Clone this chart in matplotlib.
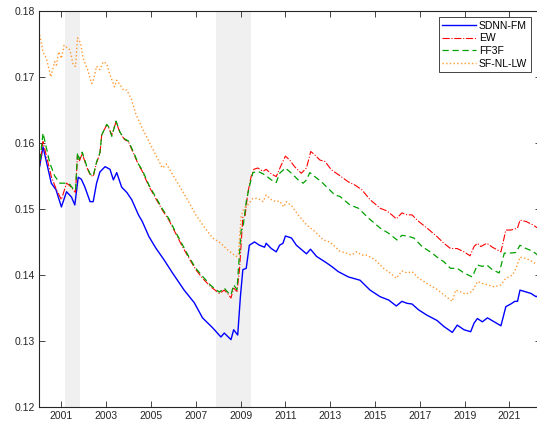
import matplotlib
matplotlib.use('Agg')
import matplotlib.pyplot as plt
import numpy as np

# (year, value)
sdnn_fm = [(2000.0, 0.1559), (2000.18, 0.1594), (2000.55, 0.1539), (2000.76, 0.1529), (2001.0, 0.1503),
           (2001.23, 0.1526), (2001.45, 0.1518), (2001.6, 0.1506), (2001.75, 0.1548), (2001.89, 0.1545),
           (2002.05, 0.1533), (2002.28, 0.1511), (2002.42, 0.1511), (2002.57, 0.1539), (2002.72, 0.1556),
           (2002.95, 0.1564), (2003.17, 0.1560), (2003.32, 0.1544), (2003.47, 0.1555), (2003.69, 0.1533),
           (2003.92, 0.1525), (2004.14, 0.1514), (2004.44, 0.1491), (2004.61, 0.1481), (2004.91, 0.1458),
           (2005.21, 0.1441), (2005.58, 0.1423), (2005.96, 0.1403), (2006.48, 0.1377), (2006.93, 0.1358),
           (2007.3, 0.1335), (2007.75, 0.1320), (2008.12, 0.1306), (2008.27, 0.1312), (2008.57, 0.1302),
           (2008.69, 0.1317), (2008.87, 0.1309), (2008.99, 0.1367), (2009.10, 0.1408), (2009.25, 0.1410),
           (2009.39, 0.1445), (2009.62, 0.1450), (2009.84, 0.1445), (2010.07, 0.1442), (2010.14, 0.1448),
           (2010.37, 0.1440), (2010.59, 0.1435), (2010.74, 0.1445), (2010.89, 0.1448), (2011.0, 0.1459),
           (2011.27, 0.1456), (2011.49, 0.1445), (2011.94, 0.1432), (2012.12, 0.1439), (2012.39, 0.1428),
           (2012.76, 0.1420), (2013.06, 0.1413), (2013.36, 0.1405), (2013.81, 0.1397), (2014.33, 0.1392),
           (2014.78, 0.1377), (2015.23, 0.1367), (2015.61, 0.1362), (2015.95, 0.1353), (2016.2, 0.1360),
           (2016.43, 0.1357), (2016.65, 0.1356), (2016.95, 0.1347), (2017.32, 0.1339), (2017.77, 0.1331),
           (2018.07, 0.1322), (2018.45, 0.1313), (2018.67, 0.1324), (2018.97, 0.1317), (2019.27, 0.1314),
           (2019.42, 0.1327), (2019.57, 0.1334), (2019.79, 0.1329), (2020.02, 0.1335), (2020.32, 0.1329),
           (2020.62, 0.1323), (2020.84, 0.1352), (2021.06, 0.1356), (2021.24, 0.1360), (2021.36, 0.1360),
           (2021.47, 0.1377), (2021.67, 0.1375), (2021.96, 0.1372), (2022.19, 0.1367), (2022.34, 0.1370)]

ew = [(2000.0, 0.1559), (2000.18, 0.1602), (2000.55, 0.1549), (2000.78, 0.1529), (2001.0, 0.1514),
      (2001.23, 0.1539), (2001.38, 0.1535), (2001.53, 0.1529), (2001.63, 0.1525), (2001.72, 0.1582),
      (2001.8, 0.1572), (2001.93, 0.1584), (2002.12, 0.1564), (2002.28, 0.1552), (2002.42, 0.1549),
      (2002.57, 0.1570), (2002.72, 0.1584), (2002.8, 0.1612), (2003.02, 0.1627), (2003.1, 0.1624),
      (2003.25, 0.1612), (2003.44, 0.1632), (2003.62, 0.1615), (2003.82, 0.1605), (2003.99, 0.1602),
      (2004.22, 0.1584), (2004.44, 0.1567), (2004.61, 0.1557), (2004.91, 0.1534), (2005.21, 0.1516),
      (2005.51, 0.1498), (2005.80, 0.1483), (2006.10, 0.1463), (2006.40, 0.1443), (2006.70, 0.1425),
      (2007.0, 0.1408), (2007.30, 0.1395), (2007.67, 0.1382), (2008.05, 0.1372), (2008.27, 0.1377),
      (2008.42, 0.1372), (2008.57, 0.1365), (2008.69, 0.1380), (2008.84, 0.1375), (2008.95, 0.1408),
      (2009.10, 0.1488), (2009.2, 0.1490), (2009.32, 0.1524), (2009.47, 0.1549), (2009.59, 0.1560),
      (2009.77, 0.1562), (2010.0, 0.1557), (2010.14, 0.1560), (2010.37, 0.1553), (2010.59, 0.1549),
      (2010.82, 0.1567), (2011.0, 0.1580), (2011.19, 0.1574), (2011.41, 0.1564), (2011.71, 0.1554),
      (2011.94, 0.1562), (2012.13, 0.1587), (2012.31, 0.1582), (2012.54, 0.1574), (2012.76, 0.1572),
      (2013.06, 0.1559), (2013.36, 0.1552), (2013.81, 0.1541), (2014.11, 0.1536), (2014.41, 0.1529),
      (2014.78, 0.1514), (2015.23, 0.1501), (2015.53, 0.1497), (2015.75, 0.1491), (2015.95, 0.1485),
      (2016.2, 0.1494), (2016.43, 0.1491), (2016.65, 0.1491), (2016.95, 0.1481), (2017.32, 0.1471),
      (2017.77, 0.1458), (2018.07, 0.1448), (2018.37, 0.1440), (2018.67, 0.1440), (2018.97, 0.1435),
      (2019.24, 0.1429), (2019.42, 0.1443), (2019.57, 0.1448), (2019.72, 0.1443), (2019.99, 0.1448),
      (2020.24, 0.1442), (2020.62, 0.1435), (2020.84, 0.1468), (2021.06, 0.1468), (2021.36, 0.1471),
      (2021.47, 0.1483), (2021.74, 0.1481), (2022.04, 0.1476), (2022.26, 0.1471), (2022.34, 0.1472)]

ff3f = [(2000.0, 0.1559), (2000.18, 0.1615), (2000.48, 0.1570), (2000.7, 0.1550), (2000.93, 0.1539),
        (2001.23, 0.1539), (2001.38, 0.1537), (2001.53, 0.1530), (2001.63, 0.1528), (2001.72, 0.1585),
        (2001.8, 0.1575), (2001.93, 0.1586), (2002.12, 0.1566), (2002.28, 0.1553), (2002.42, 0.1550),
        (2002.57, 0.1571), (2002.72, 0.1585), (2002.8, 0.1612), (2003.02, 0.1628), (2003.1, 0.1625),
        (2003.25, 0.1610), (2003.44, 0.1633), (2003.62, 0.1616), (2003.82, 0.1606), (2003.99, 0.1603),
        (2004.22, 0.1586), (2004.44, 0.1568), (2004.61, 0.1559), (2004.91, 0.1536), (2005.21, 0.1518),
        (2005.51, 0.1500), (2005.80, 0.1485), (2006.10, 0.1465), (2006.40, 0.1446), (2006.70, 0.1427),
        (2007.0, 0.1410), (2007.30, 0.1398), (2007.67, 0.1384), (2008.05, 0.1374), (2008.27, 0.1380),
        (2008.42, 0.1374), (2008.57, 0.1370), (2008.69, 0.1385), (2008.84, 0.1378), (2009.02, 0.1468),
        (2009.1, 0.1470), (2009.25, 0.1511), (2009.39, 0.1534), (2009.55, 0.1555), (2009.77, 0.1557),
        (2010.07, 0.1552), (2010.37, 0.1544), (2010.59, 0.1540), (2010.74, 0.1554), (2011.0, 0.1562),
        (2011.27, 0.1554), (2011.57, 0.1544), (2011.79, 0.1539), (2011.94, 0.1544), (2012.09, 0.1555),
        (2012.31, 0.1549), (2012.61, 0.1541), (2012.91, 0.1531), (2013.21, 0.1521), (2013.43, 0.1519),
        (2013.88, 0.1506), (2014.26, 0.1501), (2014.71, 0.1486), (2015.23, 0.1471), (2015.61, 0.1463),
        (2015.98, 0.1453), (2016.2, 0.1460), (2016.43, 0.1459), (2016.73, 0.1456), (2017.10, 0.1443),
        (2017.55, 0.1433), (2017.77, 0.1427), (2018.07, 0.1420), (2018.37, 0.1410), (2018.67, 0.1410),
        (2018.97, 0.1403), (2019.34, 0.1397), (2019.57, 0.1415), (2019.79, 0.1413), (2019.99, 0.1415),
        (2020.24, 0.1408), (2020.54, 0.1403), (2020.77, 0.1433), (2020.99, 0.1433), (2021.29, 0.1434),
        (2021.47, 0.1445), (2021.74, 0.1440), (2022.04, 0.1436), (2022.26, 0.1430), (2022.34, 0.1431)]

sf_nl_lw = [(2000.0, 0.1769), (2000.18, 0.1738), (2000.33, 0.1728), (2000.53, 0.1700), (2000.70, 0.1723),
            (2000.78, 0.1718), (2000.88, 0.1738), (2001.0, 0.1728), (2001.12, 0.1748), (2001.23, 0.1745),
            (2001.38, 0.1741), (2001.53, 0.1718), (2001.63, 0.1716), (2001.72, 0.1759), (2001.85, 0.1752),
            (2001.97, 0.1728), (2002.17, 0.1711), (2002.35, 0.1690), (2002.42, 0.1694), (2002.57, 0.1716),
            (2002.72, 0.1711), (2002.87, 0.1723), (2003.02, 0.1720), (2003.17, 0.1703), (2003.37, 0.1685),
            (2003.47, 0.1695), (2003.62, 0.1688), (2003.77, 0.1680), (2003.92, 0.1680), (2004.14, 0.1665),
            (2004.31, 0.1645), (2004.61, 0.1622), (2004.91, 0.1602), (2005.21, 0.1582), (2005.51, 0.1562),
            (2005.69, 0.1568), (2005.88, 0.1557), (2006.25, 0.1536), (2006.63, 0.1514), (2007.0, 0.1491),
            (2007.37, 0.1473), (2007.75, 0.1456), (2008.12, 0.1448), (2008.42, 0.1438), (2008.57, 0.1434),
            (2008.80, 0.1428), (2008.9, 0.1430), (2009.02, 0.1488), (2009.14, 0.1501), (2009.32, 0.1506),
            (2009.55, 0.1516), (2009.77, 0.1516), (2010.0, 0.1511), (2010.14, 0.1521), (2010.37, 0.1514),
            (2010.59, 0.1511), (2010.74, 0.1512), (2010.92, 0.1503), (2011.04, 0.1511), (2011.27, 0.1505),
            (2011.57, 0.1491), (2011.94, 0.1476), (2012.31, 0.1466), (2012.69, 0.1453), (2012.98, 0.1450),
            (2013.21, 0.1443), (2013.43, 0.1436), (2013.73, 0.1433), (2013.95, 0.1430), (2014.18, 0.1435),
            (2014.4, 0.1430), (2014.63, 0.1430), (2015.0, 0.1423), (2015.38, 0.1410), (2015.68, 0.1403),
            (2015.95, 0.1395), (2016.2, 0.1406), (2016.43, 0.1403), (2016.65, 0.1405), (2016.95, 0.1395),
            (2017.32, 0.1387), (2017.77, 0.1378), (2018.07, 0.1370), (2018.45, 0.1360), (2018.60, 0.1377),
            (2018.85, 0.1374), (2019.04, 0.1371), (2019.34, 0.1375), (2019.57, 0.1390), (2019.8, 0.1387),
            (2020.02, 0.1385), (2020.32, 0.1382), (2020.62, 0.1385), (2020.84, 0.1395), (2021.14, 0.1400),
            (2021.29, 0.1410), (2021.47, 0.1427), (2021.74, 0.1425), (2022.04, 0.1420), (2022.26, 0.1415),
            (2022.34, 0.1416)]

recessions = [(2001.17, 2001.84), (2007.92, 2009.45)]
xticks = list(range(2001, 2022, 2))
yticks = [0.12, 0.13, 0.14, 0.15, 0.16, 0.17, 0.18]

plt.rcParams['font.family'] = 'Liberation Sans'
plt.rcParams['font.size'] = 7.5

fig = plt.figure(figsize=(5.37, 4.25), dpi=100)
ax = fig.add_axes([0.0726, 0.0424, 0.9345, 0.932])

for a, b in recessions:
    ax.axvspan(a, b, color='#f0f0f0', lw=0, zorder=0)

series = [
    (sdnn_fm, 'SDNN-FM', '#0000ff', '-', 1.0, None),
    (ew, 'EW', '#ff0000', '-.', 0.8, None),
    (ff3f, 'FF3F', '#00a000', '--', 0.9, (5, 3)),
    (sf_nl_lw, 'SF-NL-LW', '#ff9933', ':', 1.0, None),
]
for data, name, col, ls, lw, dash in series:
    t, v = zip(*data)
    line, = ax.plot(t, v, color=col, linestyle=ls, linewidth=lw, label=name)
    if dash:
        line.set_dashes(dash)

ax.set_xlim(2000.0, 2022.4)
ax.set_ylim(0.12, 0.18)
ax.set_xticks(xticks)
ax.set_yticks(yticks)
ax.set_yticklabels(['%.2f' % y for y in yticks])

for s in ax.spines.values():
    s.set_color('#262626')
    s.set_linewidth(0.8)
ax.tick_params(direction='in', length=4, width=0.6, colors='#262626',
               top=True, right=True, labelcolor='#262626', pad=3)

leg = ax.legend(loc='upper right', fancybox=False, edgecolor='#262626', framealpha=1,
                borderaxespad=0.6, handlelength=3.2, handletextpad=0.3, labelspacing=0.25,
                borderpad=0.35, bbox_to_anchor=(0.992, 1.0))
leg.get_frame().set_linewidth(0.6)

fig.savefig('out.png', dpi=100)
